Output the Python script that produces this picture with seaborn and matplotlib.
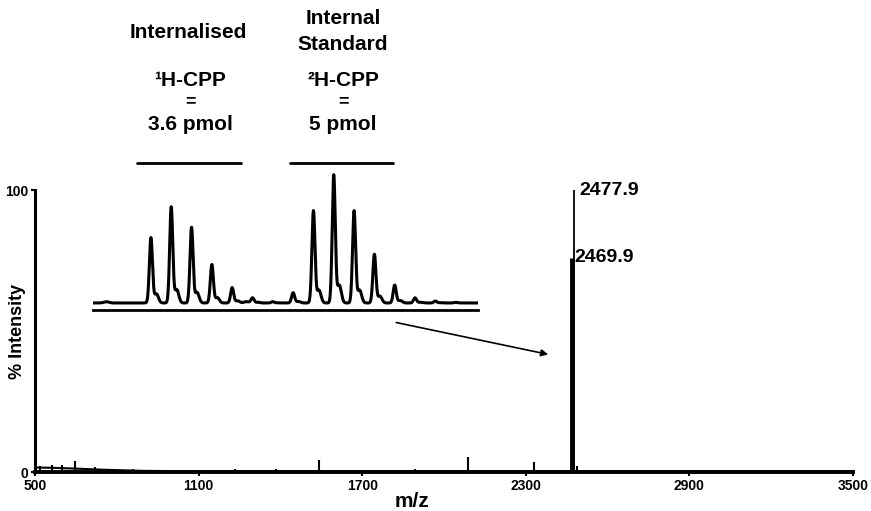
import matplotlib
matplotlib.use("Agg")
import matplotlib.pyplot as plt
from matplotlib.lines import Line2D
import numpy as np
import pandas as pd
import seaborn as sns

# main spectrum: stick peaks (m/z, % intensity)
peak_mz = [518, 562, 599, 646, 719, 858, 1234, 1384, 1541, 1892, 2089, 2330,
           2469.9, 2477.9, 2487, 2516]
peak_int = [2.1, 2.5, 2.5, 3.9, 1.8, 0.9, 1.1, 1.1, 4.3, 1.1, 5.3, 3.5,
            76, 100, 2.2, 0.6]
# baseline level of main spectrum
base_mz = [500, 560, 650, 750, 900, 1200, 3500]
base_int = [1.6, 1.5, 1.2, 0.8, 0.4, 0.2, 0.2]

# inset: isotope clusters (m/z, relative intensity)
iso_mz = [2469.9, 2470.9, 2471.9, 2472.9, 2473.9, 2474.9, 2475.9,
          2476.9, 2477.9, 2478.9, 2479.9, 2480.9, 2481.9, 2482.9, 2483.9, 2484.9]
iso_int = [51, 75, 59, 30, 12, 4, 1,
           8, 72, 100, 72, 38, 14, 4, 1.5, 0.5]
minor_mz = [2467.7, 2474.6]
minor_int = [1.0, 1.0]

W, H = 871, 511
def fx(x): return x / W
def fy(y): return 1 - y / H

sns.set_style("ticks")
plt.rcParams["font.family"] = ["Liberation Sans", "DejaVu Sans"]
plt.rcParams["font.weight"] = "bold"
for k in ["text.color", "axes.labelcolor", "xtick.color", "ytick.color", "axes.edgecolor"]:
    plt.rcParams[k] = "black"

fig = plt.figure(figsize=(8.71, 5.11), dpi=100)
ax = fig.add_axes([fx(35), fy(472), fx(853) - fx(35), fy(190) - fy(472)])

# baseline + sticks
bl = pd.DataFrame({"mz": base_mz, "int": base_int})
sns.lineplot(data=bl, x="mz", y="int", ax=ax, color="black", lw=1.5)
sticks = pd.DataFrame({"mz": peak_mz, "int": peak_int})
small = sticks[sticks["int"] < 50]
ax.vlines(small["mz"], 0, small["int"], color="black", lw=1.5)
ax.vlines(peak_mz[12], 0, peak_int[12], color="black", lw=3.5)
ax.vlines(peak_mz[13], 0, peak_int[13], color="black", lw=1.3)

ax.text(2477.9 + 20, 100, "2477.9", fontsize=14, fontweight="bold", va="center", ha="left")
ax.text(2469.9 + 8, 76, "2469.9", fontsize=14, fontweight="bold", va="center", ha="left")

ax.set_xlim(500, 3500)
ax.set_ylim(0, 100)
ax.set_xticks([500, 1100, 1700, 2300, 2900, 3500])
ax.set_yticks([0, 100])
ax.tick_params(labelsize=10, width=1.5, length=3, pad=2)
for t in ax.get_xticklabels() + ax.get_yticklabels():
    t.set_fontweight("bold")
sns.despine(ax=ax)
ax.spines["left"].set_linewidth(2.2)
ax.spines["bottom"].set_linewidth(2.8)
ax.set_xlabel("m/z", fontsize=15, fontweight="bold")
ax.xaxis.set_label_coords(0.461, -0.072)
ax.set_ylabel("% Intensity", fontsize=13, fontweight="bold")
ax.yaxis.set_label_coords(-0.011, 0.5)

ax.annotate("", xy=(2392, 41.5), xytext=(1815, 53.2),
            arrowprops=dict(arrowstyle="-|>", lw=1.2, color="black", mutation_scale=10))

# inset with isotope profile
ax_in = fig.add_axes([fx(93), fy(310), fx(478) - fx(93), fy(170) - fy(310)])
grid = np.linspace(2467.0, 2486.0, 4000)
prof = np.zeros_like(grid)
for m, h in zip(iso_mz, iso_int):
    prof += h * np.exp(-0.5 * ((grid - m) / 0.075) ** 2)
    prof += 0.14 * h * np.exp(-0.5 * ((grid - m - 0.27) / 0.1) ** 2)
for m, h in zip(minor_mz, minor_int):
    prof += h * np.exp(-0.5 * ((grid - m) / 0.12) ** 2)
prof_df = pd.DataFrame({"mz": grid, "int": prof})
sns.lineplot(data=prof_df, x="mz", y="int", ax=ax_in, color="black", lw=2.2)
ax_in.set_xlim(2467.05, 2486.0)
ax_in.set_ylim(-5.5, 104)
ax_in.set_xticks([])
ax_in.set_yticks([])
ax_in.set_xlabel("")
ax_in.set_ylabel("")
ax_in.patch.set_alpha(0)
for s in ["top", "right", "left"]:
    ax_in.spines[s].set_visible(False)
ax_in.spines["bottom"].set_linewidth(2)

# header text above inset
fs = 15
fig.text(fx(188), fy(32), "Internalised", fontsize=fs, fontweight="bold", ha="center", va="center")
fig.text(fx(343), fy(18), "Internal", fontsize=fs, fontweight="bold", ha="center", va="center")
fig.text(fx(343), fy(45), "Standard", fontsize=fs, fontweight="bold", ha="center", va="center")
fig.text(fx(190), fy(80), "¹H-CPP", fontsize=fs, fontweight="bold", ha="center", va="center")
fig.text(fx(343), fy(80), "²H-CPP", fontsize=fs, fontweight="bold", ha="center", va="center")
fig.text(fx(190), fy(102), "=", fontsize=13, fontweight="bold", ha="center", va="center")
fig.text(fx(343), fy(102), "=", fontsize=13, fontweight="bold", ha="center", va="center")
fig.text(fx(190), fy(124), "3.6 pmol", fontsize=fs, fontweight="bold", ha="center", va="center")
fig.text(fx(343), fy(124), "5 pmol", fontsize=fs, fontweight="bold", ha="center", va="center")
fig.add_artist(Line2D([fx(137), fx(241)], [fy(163), fy(163)], color="black", lw=2))
fig.add_artist(Line2D([fx(290), fx(393)], [fy(163), fy(163)], color="black", lw=2))

fig.savefig("out.png", dpi=100)
